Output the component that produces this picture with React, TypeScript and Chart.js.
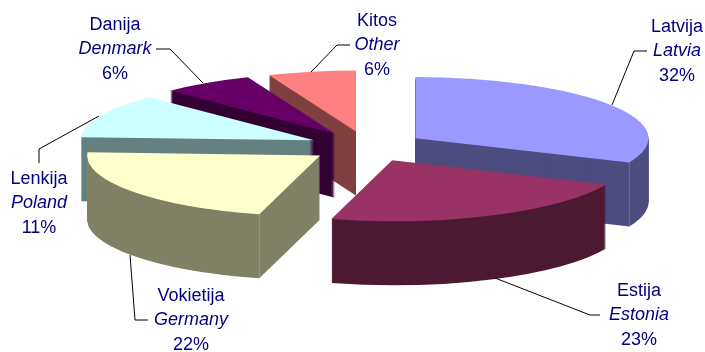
import React, { useEffect, useRef } from "react";
import { Chart, registerables } from "chart.js";

Chart.register(...registerables);

const categories = ["Latvija", "Estija", "Vokietija", "Lenkija", "Danija", "Kitos"];
const englishNames = ["Latvia", "Estonia", "Germany", "Poland", "Denmark", "Other"];
const shareLabels = ["32%", "23%", "22%", "11%", "6%", "6%"];
const shares = [31.5, 22.7, 21.6, 11.7, 6.4, 6.1];
const topColors = ["#9999FF", "#993366", "#FFFFCC", "#CCFFFF", "#660066", "#FF8080"];
const sideColors = ["#4D4D80", "#4D1A33", "#808066", "#668080", "#330033", "#804040"];

// Layout of the 3D projection and the labels
const TILT = 0.262;
const DEPTH = 64;
const EXPLODE = 58;
const RADIUS = 233;
const DRAW_ORDER = [5, 4, 3, 0, 2, 1];
const RIDGES: Record<number, "startAngle" | "endAngle"> = { 0: "endAngle", 2: "startAngle" };
const LINE_STEP = 24.4;
const labelLayout = [
  { x: 677, y: 27, leader: [[647, 51], [634, 51], [612, 105]] },
  { x: 639, y: 291, leader: [[600, 315], [590, 315], [495, 278]] },
  { x: 191, y: 296, leader: [[148, 320], [135, 320], [130, 255]] },
  { x: 39, y: 179, leader: [[39, 163], [39, 149], [99, 116]] },
  { x: 115, y: 25, leader: [[156, 49], [170, 49], [203, 83]] },
  { x: 377, y: 21, leader: [[350, 45], [337, 45], [311, 72]] },
];

const pie3d = {
  id: "pie3d",
  beforeDatasetDraw(chart: any, args: any) {
    const { ctx } = chart;
    const elements = args.meta.data;
    DRAW_ORDER.forEach((i) => {
      const el = elements[i];
      const half = (el.startAngle + el.endAngle) / 2;
      ctx.save();
      ctx.translate(0, el.y);
      ctx.scale(1, TILT);
      ctx.translate(0, -el.y);
      ctx.translate(Math.cos(half) * EXPLODE, Math.sin(half) * EXPLODE);
      const side = Object.create(el);
      side.options = { ...el.options, backgroundColor: sideColors[i], borderWidth: 0 };
      for (let d = DEPTH; d >= 1; d--) {
        ctx.save();
        ctx.translate(0, d / TILT);
        side.draw(ctx);
        ctx.restore();
      }
      el.draw(ctx);
      const ridge = RIDGES[i];
      if (ridge) {
        const px = el.x + Math.cos(el[ridge]) * el.outerRadius;
        const py = el.y + Math.sin(el[ridge]) * el.outerRadius;
        ctx.strokeStyle = "rgba(255,255,255,0.3)";
        ctx.lineWidth = 1;
        ctx.beginPath();
        ctx.moveTo(px, py);
        ctx.lineTo(px, py + DEPTH / TILT);
        ctx.stroke();
      }
      ctx.restore();
    });
    return false;
  },
  afterDraw(chart: any) {
    const { ctx } = chart;
    ctx.save();
    ctx.strokeStyle = "#000000";
    ctx.lineWidth = 1;
    labelLayout.forEach((l) => {
      ctx.beginPath();
      l.leader.forEach(([x, y], k) => (k === 0 ? ctx.moveTo(x, y) : ctx.lineTo(x, y)));
      ctx.stroke();
    });
    ctx.fillStyle = "#000080";
    ctx.textAlign = "center";
    ctx.textBaseline = "middle";
    labelLayout.forEach((l, i) => {
      ctx.font = "18px 'Liberation Sans'";
      ctx.fillText(categories[i], l.x, l.y);
      ctx.font = "italic 18px 'Liberation Sans'";
      ctx.fillText(englishNames[i], l.x, l.y + LINE_STEP);
      ctx.font = "18px 'Liberation Sans'";
      ctx.fillText(shareLabels[i], l.x, l.y + 2 * LINE_STEP);
    });
    ctx.restore();
  },
};

export default function App() {
  const ref = useRef<HTMLCanvasElement>(null);
  useEffect(() => {
    document.body.style.margin = "0";
    const chart = new Chart(ref.current!, {
      type: "pie",
      data: {
        labels: categories,
        datasets: [{ data: shares, backgroundColor: topColors, borderWidth: 0 }],
      },
      options: {
        responsive: false,
        animation: false,
        radius: RADIUS,
        layout: { padding: { left: 29, bottom: 59 } },
        plugins: { legend: { display: false }, tooltip: { enabled: false } },
        events: [],
      } as any,
      plugins: [pie3d],
    });
    return () => chart.destroy();
  }, []);
  return <canvas ref={ref} width={705} height={352} style={{ display: "block" }} />;
}
